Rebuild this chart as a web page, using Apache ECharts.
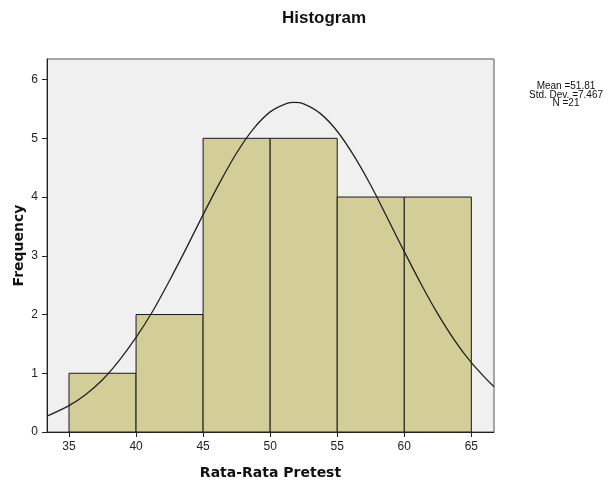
<!DOCTYPE html>
<html><head><meta charset="utf-8">
<script src="https://cdn.jsdelivr.net/npm/echarts@6/dist/echarts.min.js"></script>
<style>html,body{margin:0;padding:0;background:#fff}#c{width:615px;height:482px}</style>
</head><body><div id="c"></div>
<script>
const binStarts = [35, 40, 45, 50, 55, 60];
const binEnds = [40, 45, 50, 55, 60, 65];
const frequencies = [1, 2, 5, 5, 4, 4];
const xTicks = [35, 40, 45, 50, 55, 60, 65];
const yTicks = [0, 1, 2, 3, 4, 5, 6];
const curveX = [33.36, 35, 36.25, 37.5, 38.75, 40, 41.25, 42.5, 43.75, 45, 46.25, 47.5, 48.75, 50, 51.25, 51.81, 52.5, 53.75, 55, 56.25, 57.5, 58.75, 60, 61.25, 62.5, 63.75, 65, 66.25, 66.69];
const curveY = [0.27, 0.45, 0.64, 0.89, 1.22, 1.61, 2.06, 2.58, 3.13, 3.70, 4.25, 4.75, 5.16, 5.45, 5.594, 5.61, 5.586, 5.42, 5.12, 4.70, 4.20, 3.64, 3.07, 2.52, 2.01, 1.56, 1.18, 0.87, 0.77];
const statLines = ['Mean =51.81', 'Std. Dev. =7.467', 'N =21'];

const chart = echarts.init(document.getElementById('c'));
const bars = binStarts.map((s, i) => [s, binEnds[i], frequencies[i]]);
const curve = curveX.map((x, i) => [x, curveY[i]]);
const font = 'Arial, "Liberation Sans", sans-serif';
const nameFont = '"DejaVu Sans", Verdana, sans-serif';
chart.setOption({
  animation: false,
  backgroundColor: '#fff',
  title: {
    text: 'Histogram', left: 319, top: 5, textAlign: 'center',
    textStyle: {fontFamily: font, fontSize: 17, fontWeight: 'bold', color: '#111'}
  },
  grid: {left: 47, right: 121, top: 59, bottom: 50, show: true, backgroundColor: '#f0f0f0', borderColor: '#555', borderWidth: 1, outerBoundsMode: 'none', containLabel: false},
  xAxis: {
    type: 'value', min: 33.36, max: 66.69,
    name: 'Rata-Rata Pretest', nameLocation: 'middle', nameGap: 34, nameMoveOverlap: false,
    nameTextStyle: {fontFamily: nameFont, fontSize: 14, fontWeight: 'bold', color: '#111', verticalAlign: 'top'},
    axisLine: {show: true, lineStyle: {color: '#222', width: 1}},
    axisTick: {show: true, length: 5, customValues: xTicks, lineStyle: {color: '#222'}},
    axisLabel: {customValues: xTicks, fontFamily: font, fontSize: 12, color: '#222', margin: 9},
    splitLine: {show: false}
  },
  yAxis: {
    type: 'value', min: 0, max: 6.35,
    name: 'Frequency', nameLocation: 'middle', nameGap: 21, nameRotate: 90, nameMoveOverlap: false,
    nameTextStyle: {fontFamily: nameFont, fontSize: 14, fontWeight: 'bold', color: '#111'},
    axisLine: {show: true, lineStyle: {color: '#222', width: 1}},
    axisTick: {show: true, length: 5, customValues: yTicks, lineStyle: {color: '#222'}},
    axisLabel: {customValues: yTicks, fontFamily: font, fontSize: 12, color: '#222', margin: 9},
    splitLine: {show: false}
  },
  graphic: statLines.map((t, i) => ({
    type: 'text', x: 566, y: 86.5 + i * 8.3,
    style: {text: t, fill: '#111', font: '10px ' + font, textAlign: 'center', textVerticalAlign: 'middle'}
  })),
  series: [
    {
      type: 'custom',
      data: bars,
      encode: {x: [0, 1], y: 2},
      clip: true,
      renderItem: function (params, api) {
        const p0 = api.coord([api.value(0), 0]);
        const p1 = api.coord([api.value(1), api.value(2)]);
        return {
          type: 'rect',
          shape: {x: p0[0], y: p1[1], width: p1[0] - p0[0], height: p0[1] - p1[1]},
          style: {fill: '#d3ce97', stroke: '#1a1a1a', lineWidth: 1}
        };
      },
      z: 2
    },
    {
      type: 'line', data: curve, smooth: 0.3, showSymbol: false, symbol: 'none',
      lineStyle: {color: '#222', width: 1.3}, z: 3, clip: true
    }
  ]
});
</script></body></html>
